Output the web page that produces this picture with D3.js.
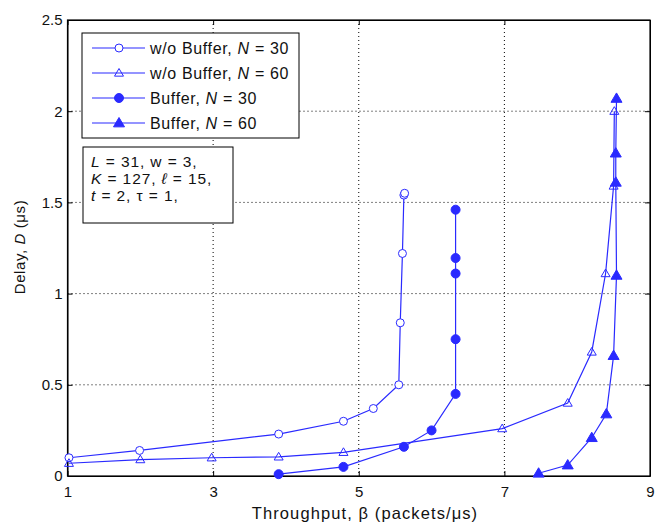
<!DOCTYPE html>
<html>
<head>
<meta charset="utf-8">
<script src="https://cdn.jsdelivr.net/npm/d3@7"></script>
<style>
body { margin: 0; background: #fff; }
svg text { font-family: "Liberation Sans", Arial, sans-serif; }
</style>
</head>
<body>
<svg width="655" height="525"></svg>
<script>
// data
var xTicks = [1, 3, 5, 7, 9];
var yTicks = [0, 0.5, 1, 1.5, 2, 2.5];

var noBuf30 = [[1.02, 0.10], [1.99, 0.14], [3.9, 0.23], [4.79, 0.30], [5.2, 0.37], [5.55, 0.50], [5.57, 0.84], [5.6, 1.22], [5.62, 1.54], [5.63, 1.55]];
var noBuf60 = [[1.02, 0.07], [2.0, 0.09], [2.98, 0.10], [3.9, 0.105], [4.79, 0.13], [6.97, 0.26], [7.87, 0.40], [8.2, 0.68], [8.39, 1.11], [8.5, 1.59], [8.51, 2.0]];
var buf30 = [[3.9, 0.01], [4.79, 0.05], [5.62, 0.16], [6.0, 0.25], [6.33, 0.45], [6.33, 0.75], [6.33, 1.11], [6.33, 1.195], [6.33, 1.46]];
var buf60 = [[7.47, 0.015], [7.87, 0.06], [8.2, 0.21], [8.4, 0.34], [8.5, 0.66], [8.54, 1.10], [8.53, 1.61], [8.53, 1.77], [8.54, 2.07]];

var seriesNames = ["w/o Buffer, ", "w/o Buffer, ", "Buffer, ", "Buffer, "];
var seriesN = ["30", "60", "30", "60"];
var seriesData = [noBuf30, noBuf60, buf30, buf60];
var seriesMark = ["circle", "triangle", "circle", "triangle"];
var seriesFill = [false, false, true, true];

var blue = "#2a2aff";
var svg = d3.select("svg");
var pLeft = 67.5, pRight = 650, pTop = 20, pBottom = 476;

var x = d3.scaleLinear().domain([1, 9]).range([pLeft, pRight]);
var y = d3.scaleLinear().domain([0, 2.5]).range([pBottom, pTop]);

// grid
svg.append("g").selectAll("line").data(xTicks.slice(1, -1)).enter().append("line")
  .attr("x1", function(d) { return x(d); }).attr("x2", function(d) { return x(d); })
  .attr("y1", pTop).attr("y2", pBottom)
  .attr("stroke", "#000").attr("stroke-width", 1).attr("stroke-dasharray", "1,3");
svg.append("g").selectAll("line").data(yTicks.slice(1, -1)).enter().append("line")
  .attr("y1", function(d) { return y(d); }).attr("y2", function(d) { return y(d); })
  .attr("x1", pLeft).attr("x2", pRight)
  .attr("stroke", "#000").attr("stroke-width", 1).attr("stroke-dasharray", "1,3");

// axes, ticks inside
var xa = svg.append("g").attr("transform", "translate(0," + pBottom + ")")
  .call(d3.axisBottom(x).tickValues(xTicks).tickSizeInner(-5).tickSizeOuter(0).tickPadding(10));
var xt = svg.append("g").attr("transform", "translate(0," + pTop + ")")
  .call(d3.axisTop(x).tickValues(xTicks).tickSizeInner(-5).tickSizeOuter(0).tickFormat(""));
var ya = svg.append("g").attr("transform", "translate(" + pLeft + ",0)")
  .call(d3.axisLeft(y).tickValues(yTicks).tickSizeInner(-5).tickSizeOuter(0).tickPadding(5).tickFormat(function(d) { return d; }));
var yr = svg.append("g").attr("transform", "translate(" + pRight + ",0)")
  .call(d3.axisRight(y).tickValues(yTicks).tickSizeInner(-5).tickSizeOuter(0).tickFormat(""));
[xa, xt, ya, yr].forEach(function(g) {
  g.selectAll("text").attr("font-size", 15).attr("fill", "#111").attr("font-family", "Liberation Sans, Arial, sans-serif");
  g.selectAll("line").attr("stroke", "#000");
  g.select(".domain").attr("stroke", "#000");
});
svg.append("rect").attr("x", pLeft).attr("y", pTop).attr("width", pRight - pLeft).attr("height", pBottom - pTop)
  .attr("fill", "none").attr("stroke", "#000").attr("stroke-width", 1.2);

// axis titles
svg.append("text").attr("x", 365).attr("y", 519).attr("text-anchor", "middle")
  .attr("font-size", 16.5).attr("letter-spacing", 1.1).attr("fill", "#111").text("Throughput, β (packets/μs)");
var yl = svg.append("text").attr("transform", "translate(25,247) rotate(-90)")
  .attr("text-anchor", "middle").attr("font-size", 15).attr("letter-spacing", 0.6).attr("fill", "#111");
yl.append("tspan").text("Delay, ");
yl.append("tspan").attr("font-style", "italic").text("D");
yl.append("tspan").text(" (μs)");

function drawMark(g, type, fill, cx, cy) {
  if (type === "circle") {
    g.append("circle").attr("cx", cx).attr("cy", cy).attr("r", fill ? 4.5 : 4)
      .attr("fill", fill ? blue : "#fff").attr("stroke", blue).attr("stroke-width", 1);
  } else {
    var s = fill ? 5.5 : 4.5;
    g.append("path").attr("d", "M" + cx + "," + (cy - s) + "L" + (cx + s) + "," + (cy + s * 0.7) + "L" + (cx - s) + "," + (cy + s * 0.7) + "Z")
      .attr("fill", fill ? blue : "none").attr("stroke", blue).attr("stroke-width", 1);
  }
}

var line = d3.line().x(function(d) { return x(d[0]); }).y(function(d) { return y(d[1]); });
var plot = svg.append("g");
seriesData.forEach(function(data, i) {
  plot.append("path").datum(data).attr("d", line)
    .attr("fill", "none").attr("stroke", blue).attr("stroke-width", 1.2);
  data.forEach(function(d) { drawMark(plot, seriesMark[i], seriesFill[i], x(d[0]), y(d[1])); });
});

// legend
var lg = svg.append("g");
lg.append("rect").attr("x", 82).attr("y", 33).attr("width", 217).attr("height", 105)
  .attr("fill", "#fff").attr("stroke", "#000").attr("stroke-width", 1);
seriesNames.forEach(function(name, i) {
  var ly = 48 + i * 25;
  lg.append("line").attr("x1", 92).attr("x2", 145).attr("y1", ly).attr("y2", ly)
    .attr("stroke", blue).attr("stroke-width", 1.2);
  drawMark(lg, seriesMark[i], seriesFill[i], 119, ly);
  var t = lg.append("text").attr("x", 150).attr("y", ly + 6).attr("font-size", 16).attr("letter-spacing", 0.65).attr("fill", "#111");
  t.append("tspan").text(name);
  t.append("tspan").attr("font-style", "italic").text("N");
  t.append("tspan").text(" = " + seriesN[i]);
});

// parameter box
var pb = svg.append("g");
pb.append("rect").attr("x", 83).attr("y", 147).attr("width", 150).attr("height", 76)
  .attr("fill", "#fff").attr("stroke", "#000").attr("stroke-width", 1);
var paramLines = [
  [["L", true], [" = 31, w = 3,", false]],
  [["K", true], [" = 127, ", false], ["ℓ", true], [" = 15,", false]],
  [["t", true], [" = 2, τ = 1,", false]]
];
paramLines.forEach(function(parts, i) {
  var t = pb.append("text").attr("x", 91).attr("y", 167 + i * 16.8).attr("font-size", 15.5).attr("letter-spacing", 0.9).attr("fill", "#111");
  parts.forEach(function(p) { t.append("tspan").attr("font-style", p[1] ? "italic" : "normal").text(p[0]); });
});
</script>
</body>
</html>
